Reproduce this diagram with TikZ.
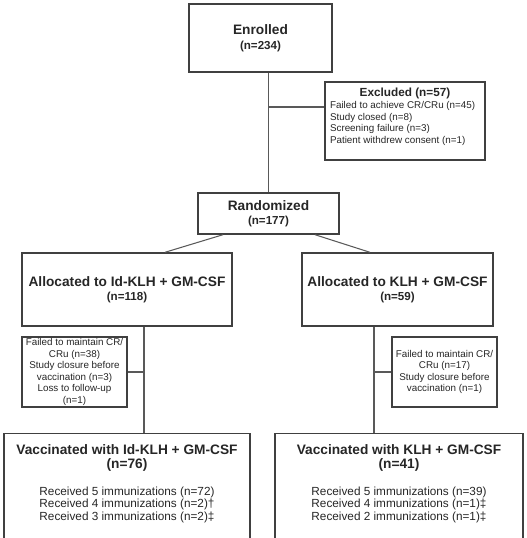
\documentclass[tikz,border=0pt]{standalone}
\usepackage{fontspec}
\setmainfont{Liberation Sans}
\usetikzlibrary{positioning}

\newcommand{\ttl}{\fontsize{7.8}{7.8}\selectfont\bfseries}
\newcommand{\nsz}{\fontsize{6.6}{7.8}\selectfont}
\newcommand{\sml}{\fontsize{5.6}{6.6}\selectfont}
\newcommand{\rcv}{\fontsize{6.7}{7.1}\selectfont}

\tikzset{
  box/.style={draw=black!75, line width=0.8pt, inner sep=0pt, align=center, text=black!85},
  link/.style={draw=black!65, line width=0.6pt},
}

\begin{document}
\begin{tikzpicture}[x=0.02cm,y=-0.02cm]

  \useasboundingbox (0,0) rectangle (527,538);

  % Enrolled
  \node[box,font=\ttl,minimum width=2.86cm,minimum height=1.36cm] (enr) at (260.5,38)
    {Enrolled\\[0.6pt]{\nsz (n=234)}};

  % Excluded
  \node[box,font=\sml] (excl) at (405,121)
    {\parbox[c][1.56cm][t]{3.2cm}{\vspace*{3.6pt}%
      \centering{\fontsize{6.7}{7}\selectfont\bfseries Excluded (n=57)\par}%
      \raggedright\leftskip=0.1cm
      Failed to achieve CR/CRu (n=45)\\
      Study closed (n=8)\\
      Screening failure (n=3)\\
      Patient withdrew consent (n=1)\par}};

  % Randomized
  \node[box,font=\ttl,minimum width=2.82cm,minimum height=0.82cm] (rand) at (268.5,213.5)
    {Randomized\\{\nsz (n=177)}};

  % the two arms
  \node[box,font=\ttl,minimum width=4.2cm,minimum height=1.46cm] (allocL) at (127,289.5)
    {Allocated to Id-KLH + GM-CSF\\{\nsz (n=118)}};
  \node[box,font=\ttl,minimum width=3.82cm,minimum height=1.46cm] (allocR) at (397.5,289.5)
    {Allocated to KLH + GM-CSF\\{\nsz (n=59)}};

  % not vaccinated
  \node[box,font=\sml,minimum width=2.1cm,minimum height=1.4cm] (sideL) at (74.5,372)
    {Failed to maintain CR/\\CRu (n=38)\\Study closure before\\vaccination (n=3)\\Loss to follow-up\\(n=1)};
  \node[box,font=\sml,minimum width=2.1cm,minimum height=1.4cm] (sideR) at (444.5,372)
    {Failed to maintain CR/\\CRu (n=17)\\Study closure before\\vaccination (n=1)};

  % Vaccinated
  \node[box,anchor=north] (vacL) at (127,433)
    {\parbox[c][2.3cm][t]{4.92cm}{\centering\vspace*{6.4pt}%
      {\ttl Vaccinated with Id-KLH + GM-CSF\\(n=76)\par}\vspace{8.2pt}%
      {\rcv Received 5 immunizations (n=72)\\
      Received 4 immunizations (n=2)\textdagger\\
      Received 3 immunizations (n=2)\textdaggerdbl\par}}};
  \node[box,anchor=north] (vacR) at (399,433)
    {\parbox[c][2.3cm][t]{4.96cm}{\centering\vspace*{6.4pt}%
      {\ttl Vaccinated with KLH + GM-CSF\\(n=41)\par}\vspace{8.2pt}%
      {\rcv Received 5 immunizations (n=39)\\
      Received 4 immunizations (n=1)\textdaggerdbl\\
      Received 2 immunizations (n=1)\textdaggerdbl\par}}};

  % connectors
  \draw[link] (rand.north) -- (rand.north |- enr.south);
  \coordinate (brk) at (268.5,107);
  \draw[link] (brk) -- (brk -| excl.west);

  \draw[link] ([xshift=-0.91cm]rand.south) -- ([xshift=0.76cm]allocL.north);
  \draw[link] ([xshift=0.93cm]rand.south) -- ([xshift=-0.55cm]allocR.north);

  \coordinate (dL) at ([xshift=0.34cm]allocL.south);
  \draw[link] (dL) -- (dL |- vacL.north);
  \draw[link] (sideL.east) -- (sideL.east -| dL);

  \coordinate (dR) at ([xshift=-0.47cm]allocR.south);
  \draw[link] (dR) -- (dR |- vacR.north);
  \draw[link] (sideR.west) -- (sideR.west -| dR);

\end{tikzpicture}
\end{document}
